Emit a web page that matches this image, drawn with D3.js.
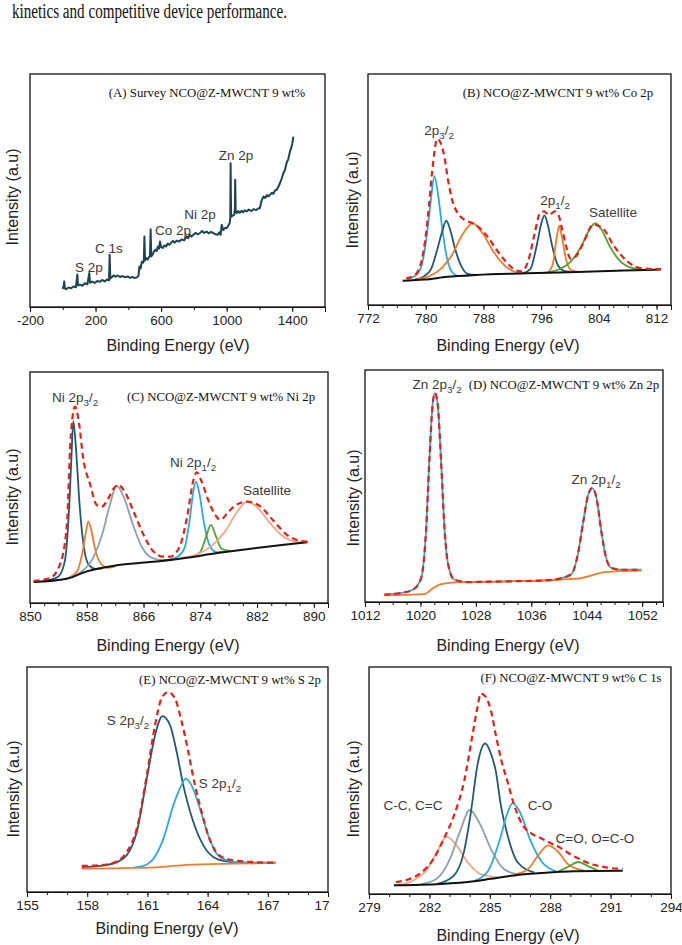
<!DOCTYPE html>
<html>
<head>
<meta charset="utf-8">
<script src="https://cdn.jsdelivr.net/npm/d3@7"></script>
<style>
  body { margin: 0; background: #fff; }
  .tick text { font-family: "Liberation Sans", Arial, sans-serif; fill: #222; }
</style>
</head>
<body>
<script>
// ---------- data (x = binding energy eV, y = % of plot height) ----------

const topLine = "kinetics and competitive device performance.";

// (A) survey
const surveyA = [[0,7.7],[5,9],[9,11],[13,8],[20,7.6],[35,8.4],[50,8.0],[65,8.8],[80,8.5],[89,13.9],[93,9.2],[105,9.6],[120,9.1],[135,10.2],[150,9.7],[162,14.6],[166,10.4],[180,10.9],[195,10.3],[210,11.2],[225,10.8],[240,11.6],[255,11.0],[270,11.8],[282,11.4],[286,22.4],[290,12.2],[300,12.8],[310,13.6],[320,13.0],[335,13.5],[350,12.9],[365,13.3],[380,12.7],[395,13.1],[410,12.5],[425,12.9],[440,12.4],[455,12.8],[462,13.5],[468,17.4],[475,16.5],[482,19.4],[490,19.0],[495,20.5],[498,30.3],[502,20.0],[510,21.0],[518,20.4],[525,21.3],[532,22.0],[536,33.4],[540,21.7],[548,22.5],[556,23.8],[565,24.6],[573,24.0],[580,26.0],[588,25.0],[593,28.1],[600,25.8],[610,25.3],[620,26.4],[630,26.0],[640,27.2],[650,26.7],[660,27.5],[672,28.4],[682,27.6],[695,28.5],[710,28.1],[725,29.0],[740,28.6],[756,30.3],[765,29.5],[775,31.0],[785,30.2],[797,31.0],[810,31.8],[822,31.2],[837,31.7],[850,32.6],[862,31.8],[878,32.4],[890,31.6],[905,32.2],[919,31.7],[932,31.2],[945,31.0],[955,32.0],[963,31.0],[970,35.3],[978,33.0],[990,33.9],[1000,33.9],[1010,35.0],[1018,36.0],[1022,38.0],[1024,61.7],[1027,39.5],[1032,38.9],[1040,39.4],[1046,39.6],[1050,42.0],[1052,54.6],[1055,41.0],[1061,40.3],[1070,41.2],[1080,40.4],[1090,41.3],[1100,40.6],[1110,41.5],[1122,41.0],[1135,41.8],[1150,41.2],[1165,42.0],[1180,41.6],[1195,42.4],[1203,42.4],[1212,45.5],[1224,47.4],[1235,46.8],[1245,48.0],[1255,47.5],[1264,48.1],[1275,49.0],[1285,48.6],[1295,50.0],[1305,50.3],[1315,51.5],[1325,53.1],[1335,55.0],[1346,57.4],[1356,59.0],[1366,61.9],[1376,63.5],[1387,66.9],[1395,68.5],[1400,70],[1407,73.1]];
const ticksA = [-200, 200, 600, 1000, 1400];

// (B) Co 2p
const coB_base = [[776.8,10.5],[779.8,11],[783,12.2],[787,13],[794,13.7],[801,14.3],[807.5,14.9],[812.6,15.4]];
const coB_cyan = [[777.5,11.2],[778.7,13],[779.5,18],[780.1,29],[780.7,45],[781.2,55.8],[781.7,48],[782.3,33],[782.9,21],[783.6,14.5],[784.5,12.6],[786,12.8]];
const coB_teal1 = [[778.5,11],[779.8,12.5],[780.8,16],[781.6,24],[782.3,32],[782.85,36.5],[783.4,32.5],[784.1,24],[784.9,17],[785.8,13.5],[787,13]];
const coB_orange1 = [[778.5,11],[780.5,12.5],[782.2,16],[783.7,22],[785,30],[786.5,35.4],[788,30.5],[789.4,23],[790.8,17.5],[792.2,14.5],[793.8,13.8]];
const coB_teal2 = [[793.5,13.8],[794.5,15.5],[795.4,26],[796,35],[796.46,38.8],[796.9,35],[797.5,26],[798.2,18],[799,15],[800,14.3]];
const coB_orange2 = [[797,14.2],[797.6,17.5],[798.1,28],[798.5,34.3],[798.9,29],[799.5,19],[800.2,15],[801,14.4]];
const coB_green = [[796.5,14],[798.5,15.5],[800,18.5],[801.5,25],[802.6,32],[803.5,35.4],[804.4,32.5],[805.5,25.5],[806.8,19.5],[808.3,16.3],[810.5,15.2]];
const coB_env = [[777.3,11.5],[778.5,13],[779.5,20],[780.3,38],[780.9,58],[781.6,71.9],[782.1,70],[782.6,64],[783.1,54],[783.7,45],[784.4,40],[785.3,37],[786.5,35.4],[787.4,33.5],[788.6,29.5],[789.8,24],[791.2,18.5],[792.5,15],[793.3,14.6],[794.2,19],[795.1,31],[795.8,39.5],[796.4,40.5],[797.1,39],[797.9,40.5],[798.4,39],[798.9,33],[799.5,25],[800.1,20],[800.8,21],[801.8,26.5],[803.2,34.8],[804.6,33],[806,26],[807.9,19],[809.7,16],[812.6,15.5]];
const ticksB = [772, 780, 788, 796, 804, 812];

// (C) Ni 2p
const niC_base = [[850.5,9.1],[855.2,10.5],[858,13.7],[862.2,16.3],[866.9,17.7],[871.6,19.4],[876.4,21.6],[881.1,23.5],[885.8,25.2],[889.1,26.3]];
const niC_teal = [[852.5,9.8],[854,11.5],[854.9,18],[855.4,35],[855.8,60],[856.1,78.7],[856.5,66],[857,42],[857.6,24],[858.3,16.5],[859.2,14.8],[860.2,15]];
const niC_orange = [[855.5,11],[856.6,13.5],[857.4,22],[857.9,31],[858.2,35.3],[858.6,32],[859.2,23],[860,17],[861,15.2],[862,15.8]];
const niC_gray = [[855,10.5],[857,13],[858.8,19],[860.2,30],[861.3,43],[862.2,50.8],[863.2,46],[864.5,34],[865.8,24],[867.2,19.5],[868.8,18.5],[870,18.8]];
const niC_cyan = [[869.5,18.6],[870.8,20],[871.8,24],[872.5,36],[873,48],[873.4,52.5],[873.9,47],[874.5,35],[875.3,25],[876.3,22],[877.8,22.5]];
const niC_green = [[873,20.3],[874,22],[874.8,28.5],[875.5,33.8],[876.2,29],[877,23.5],[878.2,22.6]];
const niC_salmon = [[871.2,19.5],[873.5,21],[875.5,24.5],[877.5,31],[879.2,39.5],[880.6,43.9],[882,41.5],[883.6,35.5],[885.2,30],[886.8,27],[888.2,26.2],[889.1,26.4]];
const niC_env = [[850.5,9.6],[852.8,10.8],[854.2,16.5],[855.2,33.8],[855.7,70],[856.35,85],[856.9,78],[857.5,62.6],[858.5,51.1],[859.4,42.4],[860.1,41.7],[860.8,43.9],[861.8,49.6],[862.5,51.1],[863.2,48.9],[864.6,39.6],[866,29.5],[867.4,22.3],[868.8,20.1],[869.8,20.1],[871.2,25.2],[872.1,36.7],[873.1,54],[873.5,56.6],[874.2,52.5],[875.2,43.9],[876.1,38.1],[876.8,36],[877.8,38.8],[878.7,41.7],[880.6,43.9],[882.5,41.7],[884.4,35.3],[886.2,29.5],[888.1,26.9],[889.1,26.6]];
const ticksC = [850, 858, 866, 874, 882, 890];

// (D) Zn 2p
const znD_base = [[1014.8,2.9],[1020.6,3.4],[1021.5,5.3],[1023,7.7],[1025.4,8.6],[1032.6,8.9],[1039.9,9.6],[1043.2,10.3],[1044.7,11.5],[1046.6,12.9],[1051.9,13.5]];
const znD_env = [[1014.8,3.2],[1017.2,3.9],[1018.9,5.3],[1020.1,10.3],[1020.8,30.4],[1021.3,62],[1021.8,86.4],[1022.1,90],[1022.5,84.9],[1023,59.1],[1023.5,30.4],[1024,16.1],[1024.9,9.6],[1026.8,8.6],[1032.6,8.9],[1037.4,9.2],[1039.9,10],[1041.8,12.1],[1042.7,20.4],[1043.5,34.7],[1044.2,46.2],[1044.8,49.1],[1045.4,44.8],[1046.1,30.4],[1046.8,18.9],[1047.6,14.6],[1049,13.9],[1051.9,13.9]];
const ticksD = [1012, 1020, 1028, 1036, 1044, 1052];

// (E) S 2p
const sE_base = [[157.73,10.4],[160.3,10.7],[161.63,11.1],[162.96,12.1],[165.28,12.6],[167.4,12.9]];
const sE_teal = [[157.73,11.1],[158.65,11.6],[159.48,13.3],[159.97,16.3],[160.47,26.7],[160.97,50.4],[161.38,69.6],[161.75,78.2],[162.13,74.1],[162.46,62.2],[162.79,47.4],[163.29,31.1],[163.79,20.7],[164.28,15.6],[164.95,13.6],[165.61,13],[167.4,13]];
const sE_cyan = [[160.3,10.8],[160.8,11.6],[161.3,14.8],[161.8,23.7],[162.29,38.5],[162.71,47.7],[162.9,50.4],[163.2,47.4],[163.62,37],[164.03,25.2],[164.45,17],[164.95,14.1],[165.61,13],[167.4,12.9]];
const sE_env = [[157.73,11.6],[158.65,11.9],[159.48,13.6],[159.97,17.8],[160.47,28.1],[160.97,51.9],[161.38,74.1],[161.71,86.2],[162.04,88.9],[162.38,85.9],[162.71,75.6],[163.04,62.2],[163.37,47.4],[163.7,35.6],[164.03,25.2],[164.37,18.5],[164.7,15.6],[165.28,14.1],[166.27,13.3],[167.4,13]];
const ticksE = [155, 158, 161, 164, 167, 170];
const tickTextE = ["155", "158", "161", "164", "167", "17"];

// (F) C 1s
const cF_base = [[280.24,3.8],[282.56,4.4],[284.22,5.6],[285.05,6.7],[286.21,8.2],[287.54,9.2],[289.19,10],[291.6,10.2]];
const cF_salmon = [[280.4,3.9],[281.2,6],[281.9,11],[282.4,19],[282.86,25.3],[283.3,22],[283.9,14],[284.6,8.5],[285.4,7.3]];
const cF_gray = [[281.6,4.3],[282.4,7],[283,15],[283.5,27],[284.01,37],[284.5,31],[285.1,19],[285.7,11],[286.4,8.6]];
const cF_teal = [[282.4,4.5],[283.2,8],[283.7,18],[284.06,36],[284.39,57],[284.77,66.3],[285.05,62],[285.3,54],[285.55,39],[285.88,26],[286.38,14],[287.2,9.5]];
const cF_cyan = [[284.2,5.7],[284.9,10],[285.5,24],[285.85,35],[286.13,40],[286.5,36],[287,24],[287.6,14],[288.3,10]];
const cF_orange = [[286.2,8.5],[286.9,11],[287.4,17],[287.9,21.4],[288.4,18.5],[288.9,13],[289.7,10.2]];
const cF_green = [[288.4,10],[288.9,12],[289.39,14.1],[289.9,12.2],[290.4,10.2]];
const cF_env = [[280.33,5.3],[280.91,6.3],[281.57,9.2],[282.23,15.8],[282.73,24.6],[283.23,34.8],[283.72,49.5],[284.14,70],[284.39,82.4],[284.55,88.3],[284.8,86.8],[285.05,81],[285.3,70],[285.55,59.7],[285.88,49.5],[286.21,39.2],[286.62,30.5],[287.04,26.8],[287.54,24.6],[288.03,22.4],[288.53,20.2],[289.03,17.3],[289.53,15.1],[290.02,13.2],[290.52,12.2],[291.02,11.4],[291.6,11.1]];
const ticksF = [279, 282, 285, 288, 291, 294];

// ---------- colours ----------
const RED = "#e32119", CYAN = "#29aae1", TEAL = "#1e5a73", ORANGE = "#f07b2c",
      GREEN = "#5a9f2d", SALMON = "#f6a688", GRAY = "#8ea1ae", BLACK = "#111";

// ---------- panels ----------
const panels = [
  { box: [30, 325, 74, 307], domain: [-200, 1600], ticks: ticksA, minor: d3.range(-200, 1601, 200),
    xTitle: [178, 345], yTitle: [12, 197],
    series: [{ data: surveyA, color: "#1c4452", w: 2, linear: true }],
    labels: [["(A) Survey NCO@Z-MWCNT 9 wt%", 177, 23, "serif"], ["S 2p", 59, 198], ["C 1s", 79, 179],
             ["Co 2p", 143, 161], ["Ni 2p", 170, 145], ["Zn 2p", 206, 86]] },
  { box: [368, 671, 74, 305], domain: [772, 814], ticks: ticksB, minor: d3.range(772, 815, 2),
    xTitle: [508, 345], yTitle: [352, 200],
    series: [{ data: coB_cyan, color: CYAN }, { data: coB_teal1, color: TEAL }, { data: coB_orange1, color: ORANGE },
             { data: coB_teal2, color: TEAL }, { data: coB_orange2, color: ORANGE }, { data: coB_green, color: GREEN },
             { data: coB_base, color: BLACK, w: 2 }, { data: coB_env, color: RED, dash: true }],
    labels: [["(B) NCO@Z-MWCNT 9 wt% Co 2p", 190, 23, "serif"], ["2p_3/_2", 71, 61], ["2p_1/_2", 187, 131], ["Satellite", 245, 143]] },
  { box: [30, 328, 372, 603], domain: [850, 892], ticks: ticksC, minor: d3.range(850, 893, 2),
    xTitle: [168, 645], yTitle: [12, 497],
    series: [{ data: niC_teal, color: TEAL }, { data: niC_orange, color: ORANGE }, { data: niC_gray, color: GRAY },
             { data: niC_cyan, color: CYAN }, { data: niC_green, color: GREEN }, { data: niC_salmon, color: SALMON },
             { data: niC_base, color: BLACK, w: 2 }, { data: niC_env, color: RED, dash: true }],
    labels: [["(C) NCO@Z-MWCNT 9 wt% Ni 2p", 191, 29, "serif"], ["Ni 2p_3/_2", 45, 30], ["Ni 2p_1/_2", 163, 95], ["Satellite", 237, 123]] },
  { box: [365, 663, 370, 602], domain: [1012, 1055], ticks: ticksD, minor: d3.range(1012, 1056, 2),
    xTitle: [508, 645], yTitle: [353, 498],
    series: [{ data: znD_env, color: CYAN }, { data: znD_base, color: ORANGE }, { data: znD_env, color: RED, dash: true }],
    labels: [["(D) NCO@Z-MWCNT 9 wt% Zn 2p", 199, 19, "serif"], ["Zn 2p_3/_2", 72, 19], ["Zn 2p_1/_2", 231, 114]] },
  { box: [27, 328, 667, 892], domain: [155, 170], ticks: ticksE, tickText: tickTextE, minor: d3.range(155, 171, 1),
    xTitle: [167, 928], yTitle: [13, 789],
    series: [{ data: sE_teal, color: TEAL }, { data: sE_cyan, color: CYAN }, { data: sE_base, color: ORANGE },
             { data: sE_env, color: RED, dash: true }],
    labels: [["(E) NCO@Z-MWCNT 9 wt% S 2p", 203, 17, "serif"], ["S 2p_3/_2", 101, 58], ["S 2p_1/_2", 193, 121]] },
  { box: [369, 671, 667, 894], domain: [279, 294], ticks: ticksF, minor: d3.range(279, 295, 1),
    xTitle: [508, 935], yTitle: [353, 789],
    series: [{ data: cF_salmon, color: SALMON }, { data: cF_gray, color: GRAY }, { data: cF_teal, color: TEAL },
             { data: cF_cyan, color: CYAN }, { data: cF_orange, color: ORANGE }, { data: cF_green, color: GREEN },
             { data: cF_base, color: BLACK, w: 2 }, { data: cF_env, color: RED, dash: true }],
    labels: [["(F) NCO@Z-MWCNT 9 wt% C 1s", 202, 15, "serif"], ["C-C, C=C", 44, 143], ["C-O", 171, 143], ["C=O, O=C-O", 226, 176]] }
];

// ---------- drawing ----------
const svg = d3.select("body").append("svg")
  .attr("width", 682).attr("height", 945)
  .style("background", "#fff");

svg.append("text")
  .attr("x", 12).attr("y", 18)
  .attr("font-family", "Liberation Serif, Times New Roman, serif")
  .attr("font-size", 20).attr("fill", "#111")
  .attr("textLength", 275).attr("lengthAdjust", "spacingAndGlyphs")
  .text(topLine);

// writes "2p_3/_2" with small lowered digits
function richText(t, str, size) {
  let low = false;
  str.split(/(_\d)/).filter(s => s).forEach(s => {
    const sub = s[0] === "_";
    const ts = t.append("tspan").text(sub ? s.slice(1) : s);
    if (sub) ts.attr("font-size", size * 0.72);
    if (sub !== low) ts.attr("dy", sub ? size * 0.28 : -size * 0.28);
    low = sub;
  });
}

panels.forEach(p => {
  const [left, right, top, bottom] = p.box;
  const x = d3.scaleLinear().domain(p.domain).range([left, right]);
  const y = d3.scaleLinear().domain([0, 100]).range([bottom, top]);
  const g = svg.append("g");

  // curves
  p.series.forEach(s => {
    const line = d3.line()
      .x(d => x(d[0])).y(d => y(d[1]))
      .curve(s.linear ? d3.curveLinear : d3.curveMonotoneX);
    g.append("path")
      .attr("d", line(s.data))
      .attr("fill", "none")
      .attr("stroke", s.color)
      .attr("stroke-width", s.w || (s.dash ? 2.2 : 1.8))
      .attr("stroke-dasharray", s.dash ? "6,4" : null)
      .attr("stroke-linejoin", "round");
  });

  // frame
  g.append("rect")
    .attr("x", left).attr("y", top)
    .attr("width", right - left).attr("height", bottom - top)
    .attr("fill", "none").attr("stroke", "#111").attr("stroke-width", 1.3);

  // minor ticks
  g.append("g")
    .attr("transform", `translate(0,${bottom})`)
    .call(d3.axisBottom(x).tickValues(p.minor).tickSize(3).tickFormat(""))
    .call(a => a.select(".domain").remove())
    .call(a => a.selectAll("line").attr("stroke", "#111"));

  // labelled ticks
  const ax = g.append("g")
    .attr("transform", `translate(0,${bottom})`)
    .call(d3.axisBottom(x).tickValues(p.ticks).tickSize(5).tickPadding(3)
      .tickFormat((d, i) => p.tickText ? p.tickText[i] : d))
    .call(a => a.select(".domain").attr("stroke", "#111"))
    .call(a => a.selectAll("line").attr("stroke", "#111"));
  ax.selectAll("text").attr("font-size", 13.5);
  if (p.tickText) ax.selectAll("text").filter((d, i, n) => i === n.length - 1)
    .attr("text-anchor", "end").attr("dx", 1);

  // axis titles
  g.append("text")
    .attr("x", p.xTitle[0]).attr("y", p.xTitle[1])
    .attr("text-anchor", "middle").attr("dominant-baseline", "central")
    .attr("font-family", "Liberation Sans, Arial, sans-serif")
    .attr("font-size", 16).attr("fill", "#222")
    .text("Binding Energy (eV)");
  g.append("text")
    .attr("transform", `translate(${p.yTitle[0]},${p.yTitle[1]}) rotate(-90)`)
    .attr("text-anchor", "middle").attr("dominant-baseline", "central")
    .attr("font-family", "Liberation Sans, Arial, sans-serif")
    .attr("font-size", 16).attr("fill", "#222")
    .text("Intensity (a.u)");

  // annotations
  p.labels.forEach(([txt, dx, dy, kind]) => {
    const serif = kind === "serif";
    const size = serif ? 12.8 : 13.5;
    const t = g.append("text")
      .attr("x", left + dx).attr("y", top + dy)
      .attr("text-anchor", "middle")
      .attr("font-family", serif ? "Liberation Serif, Times New Roman, serif" : "Liberation Sans, Arial, sans-serif")
      .attr("font-size", size)
      .attr("fill", serif ? "#111" : "#3a3a3a");
    richText(t, txt, size);
  });
});
</script>
</body>
</html>
